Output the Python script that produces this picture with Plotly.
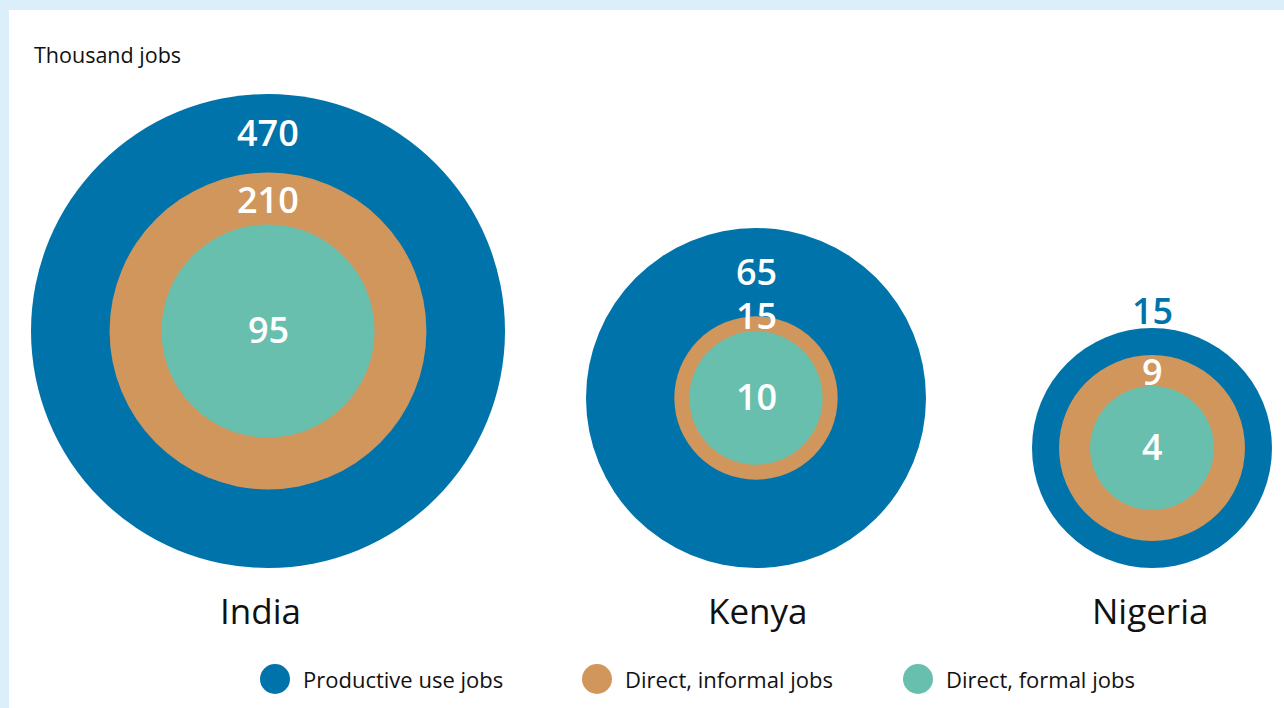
import math
import plotly.graph_objects as go

# Jobs by country, thousand jobs
countries = ["India", "Kenya", "Nigeria"]
productive_use = [470, 65, 15]
direct_informal = [210, 15, 9]
direct_formal = [95, 10, 4]
series_names = ["Productive use jobs", "Direct, informal jobs", "Direct, formal jobs"]

# Layout (pixel units on a 1:1 axis)
W, H = 1284, 708
centers_x = [268, 756, 1152]
name_x = [260, 758, 1150]
outer_diam = [474, 340, 240]       # each country's bubble set scaled on its own
baseline_y = 568                   # bubbles share a common bottom edge
colors = ["#0073AA", "#D0965C", "#69BFAD"]
font = "Open Sans"

# label placement per country: outer ring label, informal ring label
placement = {
    "India": ("ring", "ring"),
    "Kenya": ("ring", "edge"),
    "Nigeria": ("above", "ring"),
}

fig = go.Figure()

series = [productive_use, direct_informal, direct_formal]
radii = []  # radii[i][k]: country i, series k
for i, c in enumerate(countries):
    R = outer_diam[i] / 2
    radii.append([R * math.sqrt(s[i] / productive_use[i]) for s in series])

cy = [baseline_y - outer_diam[i] / 2 for i in range(len(countries))]

for k, s in enumerate(series):
    fig.add_trace(go.Scatter(
        x=centers_x,
        y=cy,
        mode="markers",
        marker=dict(size=[2 * radii[i][k] for i in range(len(countries))],
                    color=colors[k], line=dict(width=0), opacity=1),
        name=series_names[k],
        showlegend=False,
        hoverinfo="skip",
    ))

annotations = []


def num_label(x, y, value, color="white"):
    # compact box so stacked value labels sit close together
    return dict(x=x, y=y, text=str(value), showarrow=False, height=38,
                valign="middle",
                font=dict(family=font, size=36, color=color, weight=600))


for i, c in enumerate(countries):
    R, r_inf, r_form = radii[i]
    outer_mode, inf_mode = placement[c]
    # outer value
    if outer_mode == "ring":
        y_out = cy[i] - (R + r_inf) / 2 - 1
        col = "white"
    else:
        y_out = cy[i] - R - 18
        col = colors[0]
    annotations.append(num_label(centers_x[i], y_out, productive_use[i], col))
    # informal value
    if inf_mode == "ring":
        y_inf = cy[i] - (r_inf + r_form) / 2
    else:
        y_inf = cy[i] - r_inf - 1
    annotations.append(num_label(centers_x[i], y_inf, direct_informal[i]))
    # formal value at centre
    annotations.append(num_label(centers_x[i], cy[i] - 2, direct_formal[i]))
    # country name
    annotations.append(dict(x=name_x[i], y=610, text=c, showarrow=False,
                            font=dict(family=font, size=35, color="#111111")))

annotations.append(dict(x=32, y=54, text="Thousand jobs", showarrow=False,
                        xanchor="left", font=dict(family=font, size=21.5, color="#111111")))

# legend
legend_x = [275, 597, 918]
legend_y = 679
fig.add_trace(go.Scatter(
    x=legend_x, y=[legend_y] * 3, mode="markers",
    marker=dict(size=30, color=colors, line=dict(width=0)),
    showlegend=False, hoverinfo="skip",
))
for j, name in enumerate(series_names):
    annotations.append(dict(x=legend_x[j] + 26, y=legend_y, text=name, showarrow=False,
                            xanchor="left", font=dict(family=font, size=22, color="#111111")))

fig.update_layout(
    width=W, height=H,
    margin=dict(l=9, r=0, t=10, b=0),
    paper_bgcolor="#DBEFFB",
    plot_bgcolor="white",
    xaxis=dict(range=[9, W], visible=False, fixedrange=True),
    yaxis=dict(range=[H, 10], visible=False, fixedrange=True),
    annotations=annotations,
    showlegend=False,
)

fig.write_html("out.html")
